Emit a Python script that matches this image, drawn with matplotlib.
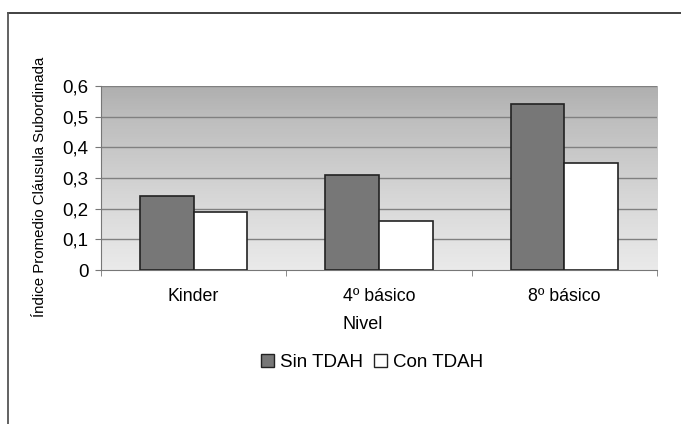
import numpy as np
import matplotlib.pyplot as plt
from matplotlib.patches import Patch
from matplotlib.lines import Line2D

niveles = ['Kinder', '4º básico', '8º básico']
sin_tdah = [0.24, 0.31, 0.54]
con_tdah = [0.19, 0.16, 0.35]
yticks = [0, 0.1, 0.2, 0.3, 0.4, 0.5, 0.6]
ytick_labels = ['0', '0,1', '0,2', '0,3', '0,4', '0,5', '0,6']

plt.rcParams['font.family'] = ['Liberation Sans', 'DejaVu Sans']

fig = plt.figure(figsize=(6.81, 4.24), dpi=100)
ax = fig.add_axes([0.148, 0.363, 0.817, 0.434])

# fondo degradado
grad = np.linspace(0, 1, 256).reshape(-1, 1)
ax.imshow(grad, cmap='Greys_r', aspect='auto', extent=[-0.5, 2.5, 0, 0.6],
          vmin=-2.2, vmax=1.6, origin='upper', zorder=0)

x = np.arange(len(niveles))
w = 0.29
ax.bar(x - w / 2, sin_tdah, w, color='#777777', edgecolor='#222222', linewidth=1.2, zorder=3)
ax.bar(x + w / 2, con_tdah, w, color='white', edgecolor='#222222', linewidth=1.2, zorder=3)

ax.set_xlim(-0.5, 2.5)
ax.set_ylim(0, 0.6)
ax.set_yticks(yticks)
ax.set_yticklabels(ytick_labels, fontsize=13.5)
for y in yticks[1:]:
    ax.axhline(y, color='#808080', linewidth=1, zorder=1)

ax.set_xticks(x)
ax.set_xticklabels(niveles, fontsize=12.8)
ax.set_xticks([-0.5, 0.5, 1.5, 2.5], minor=True)
ax.tick_params(axis='x', which='major', length=0, pad=13)
ax.tick_params(axis='x', which='minor', length=4, color='#777777')
ax.tick_params(axis='y', length=4, color='#777777', pad=5)
for s in ['top', 'right']:
    ax.spines[s].set_visible(False)
for s in ['left', 'bottom']:
    ax.spines[s].set_color('#777777')

ax.set_xlabel('Nivel', fontsize=13)
ax.xaxis.set_label_coords(0.47, -0.25)
ax.set_ylabel('Índice Promedio Cláusula Subordinada', fontsize=10.8)
ax.yaxis.set_label_coords(-0.097, 0.45)

handles = [Patch(facecolor='#777777', edgecolor='#222222'),
           Patch(facecolor='white', edgecolor='#222222')]
fig.legend(handles, ['Sin TDAH', 'Con TDAH'], loc='center', bbox_to_anchor=(0.546, 0.146),
           ncol=2, frameon=False, fontsize=13.5, handlelength=0.7, handleheight=0.7,
           handletextpad=0.3, columnspacing=0.6)

# marco exterior
fig.add_artist(Line2D([0.012, 1.0], [0.969, 0.969], color='#333333', linewidth=1.3))
fig.add_artist(Line2D([0.012, 0.012], [0.0, 0.969], color='#555555', linewidth=1.3))

fig.savefig('out.png', dpi=100)
